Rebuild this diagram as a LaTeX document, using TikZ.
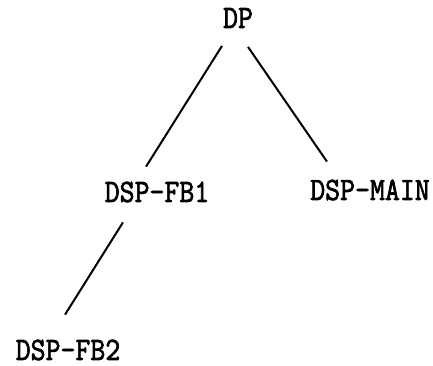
\documentclass[tikz,border=0pt]{standalone}
\usepackage{fontspec}
\newfontfamily\treefont{Latin Modern Mono}[FakeBold=2.2]
\newcommand{\treetext}[1]{\scalebox{1}[1.12]{#1}}
\begin{document}
\begin{tikzpicture}[x=1pt,y=1pt,
  label/.style={inner sep=0pt,outer sep=0pt,anchor=center,
    font=\fontsize{29}{34}\selectfont\treefont},
  branch/.style={line width=2pt}]
  \useasboundingbox (0,0) rectangle (433,366);
  % tree nodes
  \node[label] (dp)   at (238,348) {\treetext{DP}};
  \node[label] (fb1)  at (157,174) {\treetext{DSP-FB1}};
  \node[label] (main) at (370,176) {\treetext{DSP-MAIN}};
  \node[label] (fb2)  at (68,16)   {\treetext{DSP-FB2}};
  % branches
  \draw[branch] ([xshift=-16pt,yshift=-18pt]dp.south) -- ([xshift=-11pt,yshift=15pt]fb1.north);
  \draw[branch] ([xshift=10pt,yshift=-19pt]dp.south) -- ([xshift=-43pt,yshift=18pt]main.north);
  \draw[branch] ([xshift=-34pt,yshift=-20pt]fb1.south) -- ([xshift=-3pt,yshift=25pt]fb2.north);
\end{tikzpicture}
\end{document}
